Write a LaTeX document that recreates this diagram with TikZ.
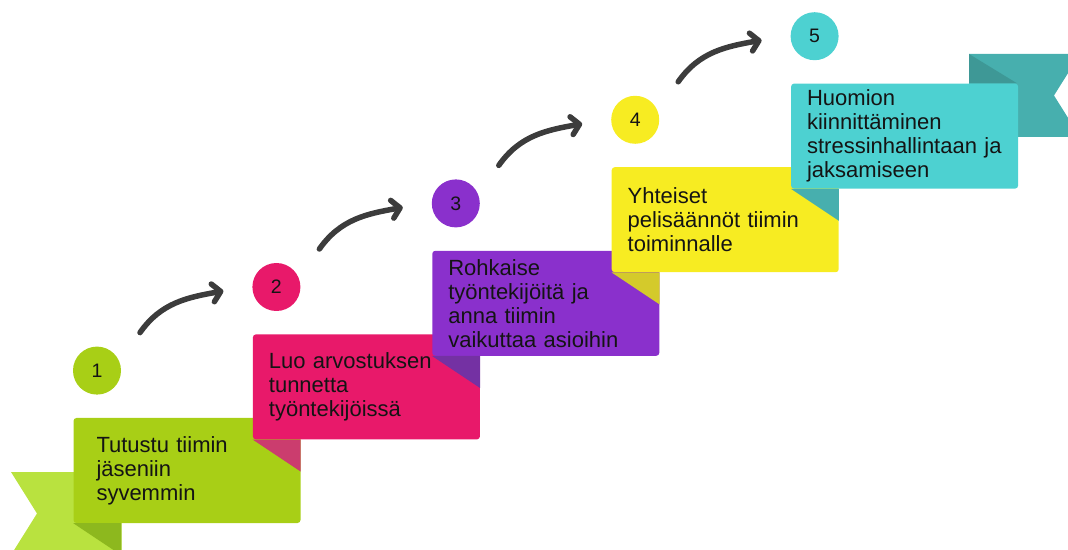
\documentclass[tikz,border=0pt]{standalone}
\usepackage{fontspec}
\setmainfont{Liberation Sans}
\usetikzlibrary{positioning, arrows.meta}
\definecolor{stepgreen}{HTML}{A8CF16}
\definecolor{stepgreenfold}{HTML}{8DB81E}
\definecolor{ribbongreen}{HTML}{B9E23F}
\definecolor{steppink}{HTML}{E8196A}
\definecolor{steppinkfold}{HTML}{CB3D6E}
\definecolor{steppurple}{HTML}{8A30CC}
\definecolor{steppurplefold}{HTML}{7431A3}
\definecolor{stepyellow}{HTML}{F7EC22}
\definecolor{stepyellowfold}{HTML}{D4CA2B}
\definecolor{stepteal}{HTML}{4DD1D1}
\definecolor{steptealfold}{HTML}{47AFAE}
\definecolor{ribbontealdark}{HTML}{3E9896}
\definecolor{arrowgray}{HTML}{3C3C3C}

\begin{document}
\begin{tikzpicture}[
    x = 1pt, y = 1pt,
    stepbox/.style = {rounded corners = 3pt, minimum width = 227pt, minimum height = 105pt,
        text width = 195pt, inner xsep = 16pt, align = left, text = black!92,
        font = \fontsize{22}{24}\selectfont},
    stepnum/.style = {circle, minimum size = 48pt, inner sep = 0pt, text = black!92,
        font = \fontsize{19.5}{21}\selectfont},
    steparrow/.style = {draw = arrowgray, line width = 5.5pt, line cap = round,
        -{Straight Barb[length = 8pt, width = 18pt, line join = round, line cap = round]}}
]
\useasboundingbox (0,0) rectangle (1068,549);
% ribbons
\fill[ribbongreen] (11,77) -- (121.5,77) -- (121.5,-6) -- (11,-6) -- (37,35.5) -- cycle;
\fill[steptealfold] (969,495) -- (1080,495) -- (1054,453.5) -- (1080,412) -- (969,412) -- cycle;
\fill[ribbontealdark] (969,495) -- (1016.5,466) -- (969,466) -- cycle;
% steps
\node[stepbox, text width = 181pt, inner xsep = 23pt] (box1) [fill = stepgreen] at (187,78.5)
    {Tutustu tiimin\\jäseniin\\syvemmin};
\fill[stepgreenfold] (box1.south west) -- ++(48,0) -- ++(0,-32) -- cycle;
\node[stepbox] (box2) [right = -48pt of box1, yshift = 83.6pt, fill = steppink]
    {Luo arvostuksen\\tunnetta\\työntekijöissä};
\fill[steppinkfold] (box2.south west) -- ++(48,0) -- ++(0,-32) -- cycle;
\node[stepbox] (box3) [right = -48pt of box2, yshift = 83.6pt, fill = steppurple]
    {Rohkaise\\työntekijöitä ja\\anna tiimin\\vaikuttaa asioihin};
\fill[steppurplefold] (box3.south west) -- ++(48,0) -- ++(0,-32) -- cycle;
\node[stepbox] (box4) [right = -48pt of box3, yshift = 83.6pt, fill = stepyellow]
    {Yhteiset\\pelisäännöt tiimin\\toiminnalle};
\fill[stepyellowfold] (box4.south west) -- ++(48,0) -- ++(0,-32) -- cycle;
\node[stepbox] (box5) [right = -48pt of box4, yshift = 83.6pt, fill = stepteal]
    {Huomion\\kiinnittäminen\\stressinhallintaan ja\\jaksamiseen};
\fill[steptealfold] (box5.south west) -- ++(48,0) -- ++(0,-32) -- cycle;
% numbers
\node[stepnum] (num1) [above = 23pt of box1.north, xshift = -90pt, fill = stepgreen] {1};
\node[stepnum] (num2) [above = 23pt of box2.north, xshift = -90pt, fill = steppink] {2};
\node[stepnum] (num3) [above = 23pt of box3.north, xshift = -90pt, fill = steppurple] {3};
\node[stepnum] (num4) [above = 23pt of box4.north, xshift = -90pt, fill = stepyellow] {4};
\node[stepnum] (num5) [above = 23pt of box5.north, xshift = -90pt, fill = stepteal] {5};
% arrows
\draw[steparrow] ([shift = {(43pt,38pt)}]num1.center) to[out = 55, in = 190] ([shift = {(-53pt,-4pt)}]num2.center);
\draw[steparrow] ([shift = {(43pt,38pt)}]num2.center) to[out = 55, in = 190] ([shift = {(-53pt,-4pt)}]num3.center);
\draw[steparrow] ([shift = {(43pt,38pt)}]num3.center) to[out = 55, in = 190] ([shift = {(-53pt,-4pt)}]num4.center);
\draw[steparrow] ([shift = {(43pt,38pt)}]num4.center) to[out = 55, in = 190] ([shift = {(-53pt,-4pt)}]num5.center);

\end{tikzpicture}
\end{document}
